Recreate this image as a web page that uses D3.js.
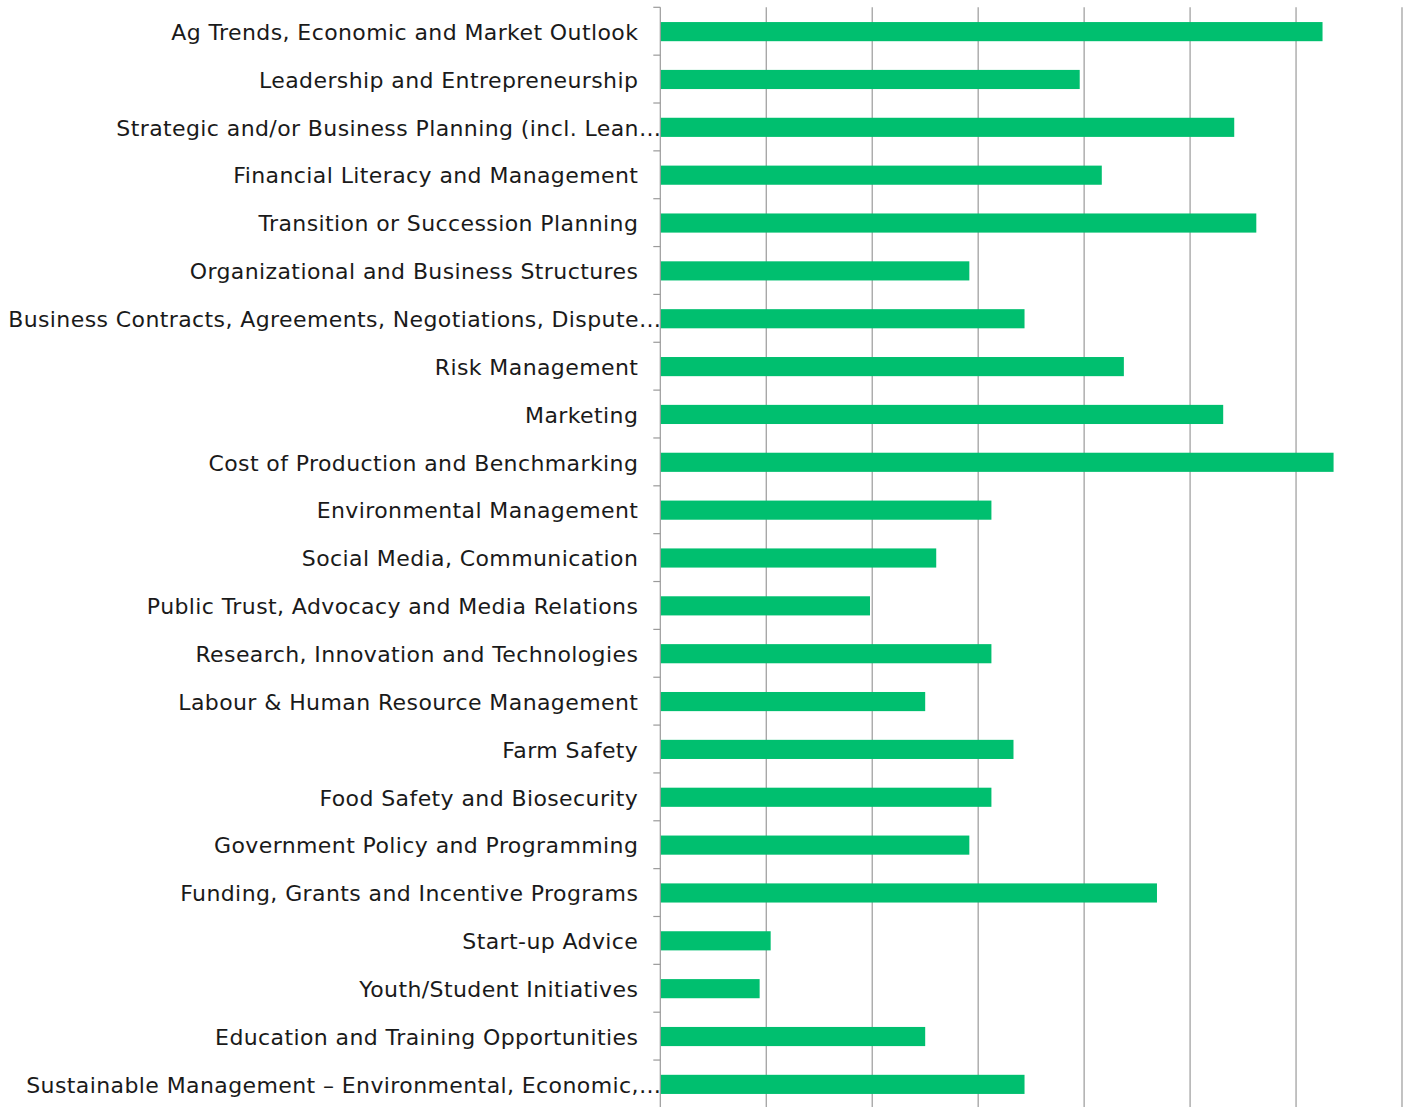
<!DOCTYPE html>
<html>
<head>
<meta charset="utf-8">
<script src="https://cdn.jsdelivr.net/npm/d3@7"></script>
<style>
  body { margin: 0; background: #fff; }
  .lbl { font-family: "DejaVu Sans", sans-serif; fill: #1a1a1a; }
</style>
</head>
<body>
<div id="chart"></div>
<script>
// topics, top to bottom
var topics = [
  "Ag Trends, Economic and Market Outlook",
  "Leadership and Entrepreneurship",
  "Strategic and/or Business Planning (incl. Lean\u2026",
  "Financial Literacy and Management",
  "Transition or Succession Planning",
  "Organizational and Business Structures",
  "Business Contracts, Agreements, Negotiations, Dispute\u2026",
  "Risk Management",
  "Marketing",
  "Cost of Production and Benchmarking",
  "Environmental Management",
  "Social Media, Communication",
  "Public Trust, Advocacy and Media Relations",
  "Research, Innovation and Technologies",
  "Labour & Human Resource Management",
  "Farm Safety",
  "Food Safety and Biosecurity",
  "Government Policy and Programming",
  "Funding, Grants and Incentive Programs",
  "Start-up Advice",
  "Youth/Student Initiatives",
  "Education and Training Opportunities",
  "Sustainable Management \u2013 Environmental, Economic,\u2026"
];
// number of respondents picking each topic
var counts = [60, 38, 52, 40, 54, 28, 33, 42, 51, 61, 30, 25, 19, 30, 24, 32, 30, 28, 45, 10, 9, 24, 33];
var totalResp = 96;
var gridTicks = [0.1, 0.2, 0.3, 0.4, 0.5, 0.6, 0.7];

var margin = {top: 7.3, right: 5, bottom: 0, left: 660.3},
    width = 1402 - margin.left,
    height = 1100.6;

var svg = d3.select("#chart").append("svg")
    .attr("width", 1407)
    .attr("height", 1107)
  .append("g")
    .attr("transform", "translate(" + margin.left + "," + margin.top + ")");

var data = topics.map(function(t, i) { return {name: t, share: counts[i] / totalResp}; });

var x = d3.scaleLinear().domain([0, 0.7]).range([0, width]);
var y = d3.scaleBand().domain(topics).range([0, height]).paddingInner(0.6).paddingOuter(0.3);
var step = y.step();

// vertical gridlines
svg.selectAll(".grid").data(gridTicks).enter().append("line")
   .attr("x1", function(d){ return x(d); })
   .attr("x2", function(d){ return x(d); })
   .attr("y1", 0).attr("y2", height)
   .attr("stroke", "#9a9a9a").attr("stroke-width", 1.2);

// bars
svg.selectAll(".bar").data(data).enter().append("rect")
   .attr("x", 0)
   .attr("y", function(d){ return y(d.name) + 0.4; })
   .attr("width", function(d){ return x(d.share); })
   .attr("height", y.bandwidth())
   .attr("fill", "#00bf6f");

// category axis: line plus ticks on band edges
svg.append("line")
   .attr("x1", 0).attr("x2", 0).attr("y1", 0).attr("y2", height)
   .attr("stroke", "#9a9a9a").attr("stroke-width", 1.2);
svg.selectAll(".tk").data(d3.range(topics.length + 1)).enter().append("line")
   .attr("x1", -7).attr("x2", 0)
   .attr("y1", function(i){ return i * step; })
   .attr("y2", function(i){ return i * step; })
   .attr("stroke", "#9a9a9a").attr("stroke-width", 1.2);

// labels, truncated ones run up to the axis
svg.selectAll(".lbl").data(topics).enter().append("text")
   .attr("class", "lbl")
   .attr("x", function(d){ return d.slice(-1) === "\u2026" ? 1 : -22; })
   .attr("y", function(d){ return y(d) + y.bandwidth() / 2 + 1; })
   .attr("dy", "0.35em")
   .style("text-anchor", "end")
   .style("font-size", "22px")
   .style("letter-spacing", "0.4px")
   .text(function(d){ return d; });
</script>
</body>
</html>
